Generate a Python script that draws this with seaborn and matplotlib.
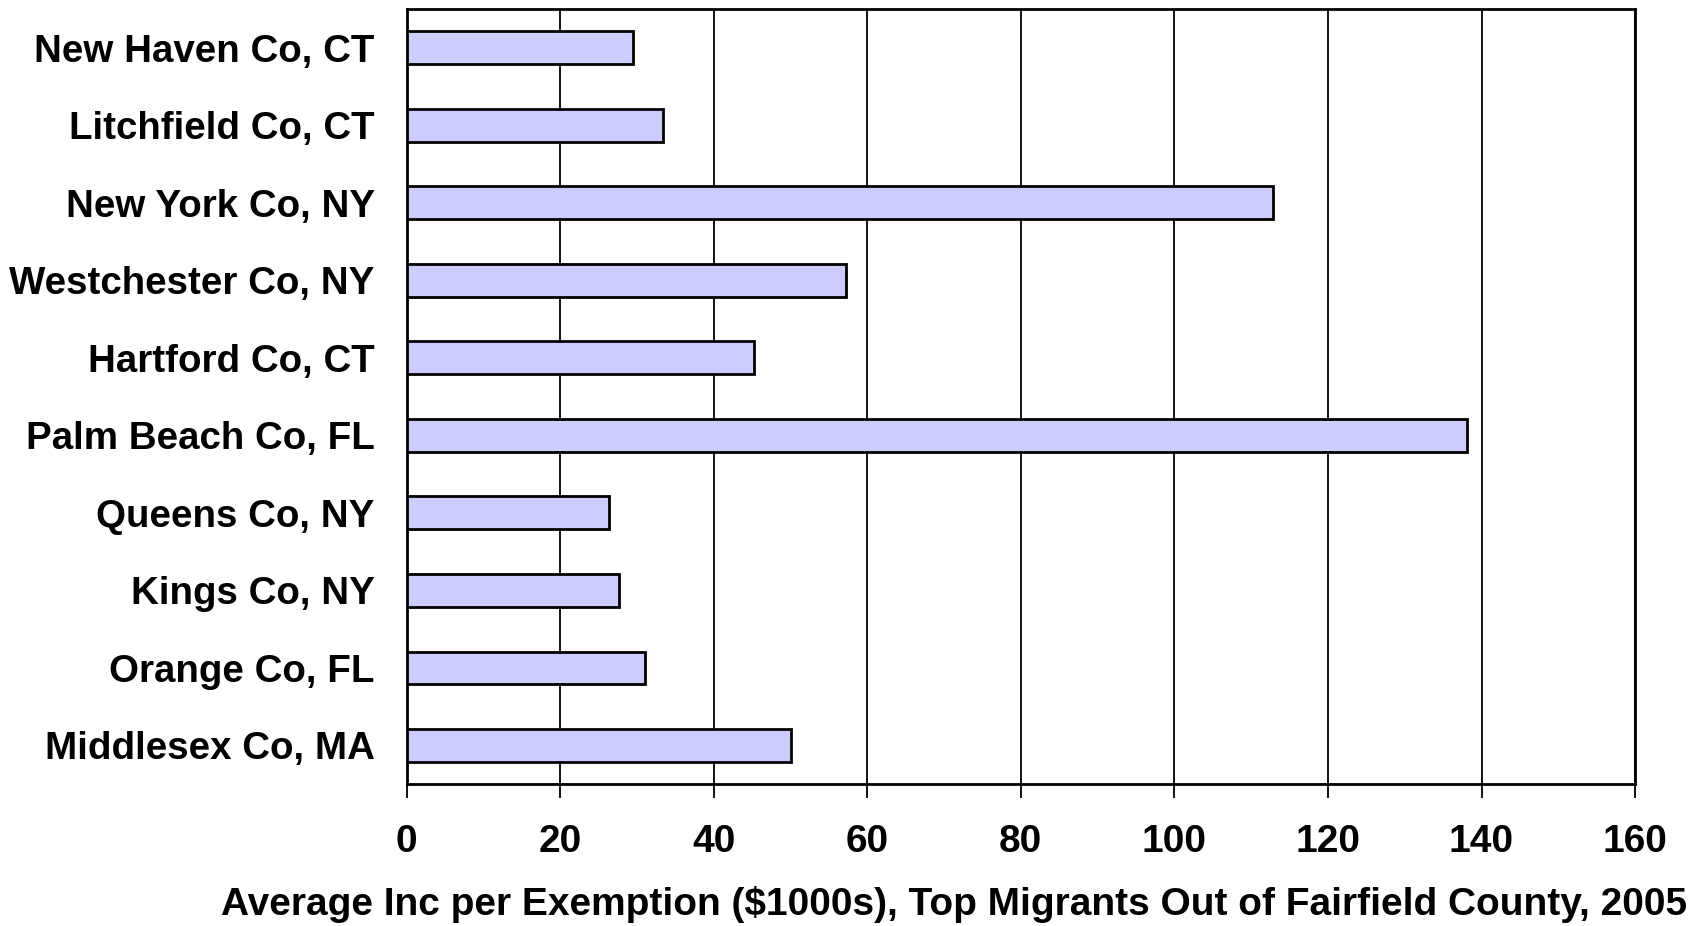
import matplotlib
matplotlib.use("Agg")
import matplotlib.pyplot as plt
import seaborn as sns
import pandas as pd

counties = ["New Haven Co, CT", "Litchfield Co, CT", "New York Co, NY", "Westchester Co, NY",
            "Hartford Co, CT", "Palm Beach Co, FL", "Queens Co, NY", "Kings Co, NY",
            "Orange Co, FL", "Middlesex Co, MA"]
avg_income = [29.5, 33.4, 112.9, 57.2, 45.2, 138.1, 26.3, 27.7, 31.1, 50.0]
x_ticks = [0, 20, 40, 60, 80, 100, 120, 140, 160]
x_label = "Average Inc per Exemption ($1000s), Top Migrants Out of Fairfield County, 2005"

sns.set_theme(style="white")
plt.rcParams['font.family'] = ['Liberation Sans', 'DejaVu Sans']
plt.rcParams['font.weight'] = 'bold'

df = pd.DataFrame({"county": counties, "value": avg_income})

fig = plt.figure(figsize=(17, 9.26), dpi=100)
ax = fig.add_axes([0.2392, 0.1533, 0.9618 - 0.2392, 0.9903 - 0.1533])

sns.barplot(data=df, x="value", y="county", orient="h", color="#CCCCFF", saturation=1,
            width=0.42, edgecolor="black", linewidth=2, ax=ax, zorder=3)

ax.set_xlim(0, 160)
ax.set_ylim(9.5, -0.5)
ax.set_xticks(x_ticks)
ax.set_xticklabels([str(t) for t in x_ticks])
ax.xaxis.grid(True, color="black", linewidth=1.3, zorder=0)
ax.yaxis.grid(False)
ax.set_axisbelow(True)

for s in ax.spines.values():
    s.set_visible(True)
    s.set_color("black")
    s.set_linewidth(2)

ax.tick_params(axis="x", which="major", bottom=True, direction="out", length=10, width=1.3,
               color="black", pad=19, labelsize=28, labelcolor="black")
ax.tick_params(axis="y", left=False, length=0, pad=23, labelsize=27.7, labelcolor="black")
for lbl in ax.get_xticklabels() + ax.get_yticklabels():
    lbl.set_fontweight("bold")

ax.set_ylabel("")
ax.set_xlabel(x_label, fontsize=28, fontweight="bold", color="black")
ax.xaxis.set_label_coords((205 + 1555) / 2 / 1568, 3 / 926, transform=fig.transFigure)
ax.xaxis.label.set_horizontalalignment("center")
ax.xaxis.label.set_verticalalignment("bottom")

fig.savefig("out.png", dpi=100, facecolor="white")
